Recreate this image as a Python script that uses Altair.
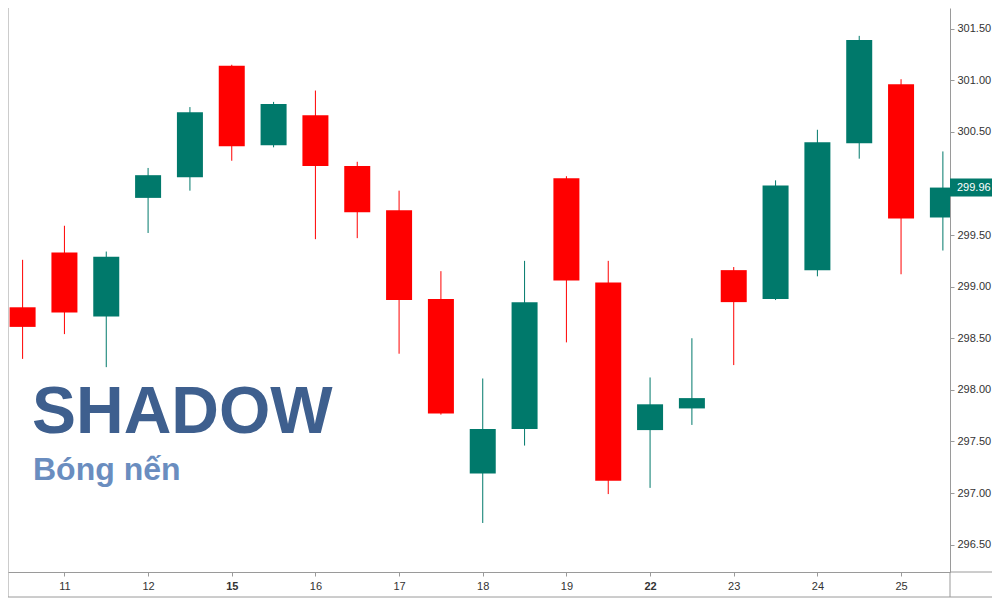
import altair as alt
import pandas as pd

# ---- data ----
candle_index = list(range(23))
opens = [298.80, 299.33, 298.71, 299.86, 300.06, 301.14, 300.37, 300.66, 300.17, 299.74, 298.88, 297.19,
         297.62, 300.05, 299.04, 297.61, 297.82, 299.16, 298.88, 299.16, 300.39, 300.96, 299.67]
highs = [299.26, 299.59, 299.34, 300.15, 300.74, 301.15, 300.79, 300.90, 300.21, 299.93, 299.15, 298.11,
         299.25, 300.07, 299.25, 298.12, 298.50, 299.19, 300.03, 300.52, 301.43, 301.01, 300.31]
lows = [298.30, 298.54, 298.22, 299.52, 299.93, 300.22, 300.35, 299.46, 299.47, 298.35, 297.76, 296.71,
        297.46, 298.46, 296.99, 297.05, 297.66, 298.24, 298.87, 299.10, 300.24, 299.12, 299.35]
closes = [298.61, 298.75, 299.29, 300.08, 300.69, 300.36, 300.77, 300.17, 299.72, 298.87, 297.77, 297.62,
          298.85, 299.06, 297.12, 297.86, 297.92, 298.85, 299.98, 300.40, 301.39, 299.66, 299.96]

day_labels = ["11", "12", "15", "16", "17", "18", "19", "22", "23", "24", "25"]
day_tick_index = [1, 3, 5, 7, 9, 11, 13, 15, 17, 19, 21]
bold_days = ["15", "22"]
# 300.00 is hidden behind the last-price label in the reference
price_ticks = [296.5, 297.0, 297.5, 298.0, 298.5, 299.0, 299.5, 300.5, 301.0, 301.5]
last_price = [299.96]

title_text = ["SHADOW"]
subtitle_text = ["Bóng nến"]

UP = "#00796b"
DOWN = "#ff0000"
GREY = "#9a9a9a"
FONT = "Liberation Sans"

df = pd.DataFrame({"i": candle_index, "open": opens, "high": highs, "low": lows, "close": closes})
df["dir"] = ["up" if c >= o else "down" for o, c in zip(opens, closes)]

xscale = alt.Scale(domain=[-0.349, 22.17], nice=False, zero=False, padding=0)
yscale = alt.Scale(domain=[296.235, 301.70], nice=False, zero=False, padding=0)

label_array = "[" + ",".join("'%s'" % d for d in day_labels) + "]"
bold_test = " || ".join("datum.value == %d" % day_tick_index[day_labels.index(b)] for b in bold_days)

xaxis = alt.Axis(
    values=day_tick_index,
    labelExpr=label_array + "[(datum.value - 1) / 2]",
    labelFontWeight={"condition": {"test": bold_test, "value": "bold"}, "value": "normal"},
    title=None, grid=False, domain=True, domainColor=GREY, tickColor=GREY, tickSize=4,
    labelFont=FONT, labelFontSize=11, labelColor="#333333", labelPadding=4,
)
yaxis = alt.Axis(
    orient="right", values=price_ticks, format=".2f", title=None, grid=False,
    domainColor=GREY, tickColor=GREY, tickSize=4, labelPadding=3,
    labelFont=FONT, labelFontSize=11, labelColor="#333333",
)

color = alt.Color("dir:N", scale=alt.Scale(domain=["up", "down"], range=[UP, DOWN]), legend=None)

base = alt.Chart(df).encode(x=alt.X("i:Q", scale=xscale, axis=xaxis))

wicks = base.mark_rule(strokeWidth=1, clip=True).encode(
    y=alt.Y("low:Q", scale=yscale, axis=yaxis), y2="high:Q", color=color
)
bodies = base.mark_bar(width=26, clip=True).encode(
    y=alt.Y("open:Q", scale=yscale, axis=yaxis), y2="close:Q", color=color
)

last_df = pd.DataFrame({"close": last_price, "label": ["%.2f" % v for v in last_price]})
price_box = alt.Chart(last_df).mark_rect(color=UP, yOffset=-9, y2Offset=9).encode(
    x=alt.value(942), x2=alt.value(992),
    y=alt.Y("close:Q", scale=yscale, axis=yaxis), y2="close:Q",
)
price_text = alt.Chart(last_df).mark_text(
    align="left", baseline="middle", color="white", font=FONT, fontSize=11
).encode(x=alt.value(949), y=alt.Y("close:Q", scale=yscale, axis=yaxis), text="label:N")

one = pd.DataFrame({"k": [0]})
frame_left = alt.Chart(one).mark_rule(color=GREY, strokeWidth=1).encode(
    x=alt.value(0), y=alt.value(0), y2=alt.value(589))
frame_bottom = alt.Chart(one).mark_rule(color=GREY, strokeWidth=1).encode(
    x=alt.value(0), x2=alt.value(992), y=alt.value(589))
axis_ext_h = alt.Chart(one).mark_rule(color=GREY, strokeWidth=1).encode(
    x=alt.value(942), x2=alt.value(992), y=alt.value(564))
axis_ext_v = alt.Chart(one).mark_rule(color=GREY, strokeWidth=1).encode(
    x=alt.value(942), y=alt.value(564), y2=alt.value(589))

title = alt.Chart(pd.DataFrame({"t": title_text})).mark_text(
    align="left", baseline="alphabetic", font=FONT, fontSize=66, fontWeight="bold", color="#3e5f8e"
).encode(x=alt.value(24), y=alt.value(425), text="t:N")
subtitle = alt.Chart(pd.DataFrame({"t": subtitle_text})).mark_text(
    align="left", baseline="alphabetic", font=FONT, fontSize=32, fontWeight="bold", color="#6a8dbf"
).encode(x=alt.value(25), y=alt.value(472), text="t:N")

chart = alt.layer(
    frame_left, frame_bottom, axis_ext_h, axis_ext_v,
    wicks, bodies, price_box, price_text, title, subtitle
).properties(
    width=942, height=564,
    autosize=alt.AutoSizeParams(type="none"),
    padding={"left": 0, "top": 0, "right": 42, "bottom": 26},
    background="white",
).configure_view(stroke=None)

chart.save("out.html", embed_options={"renderer": "svg", "actions": False})
